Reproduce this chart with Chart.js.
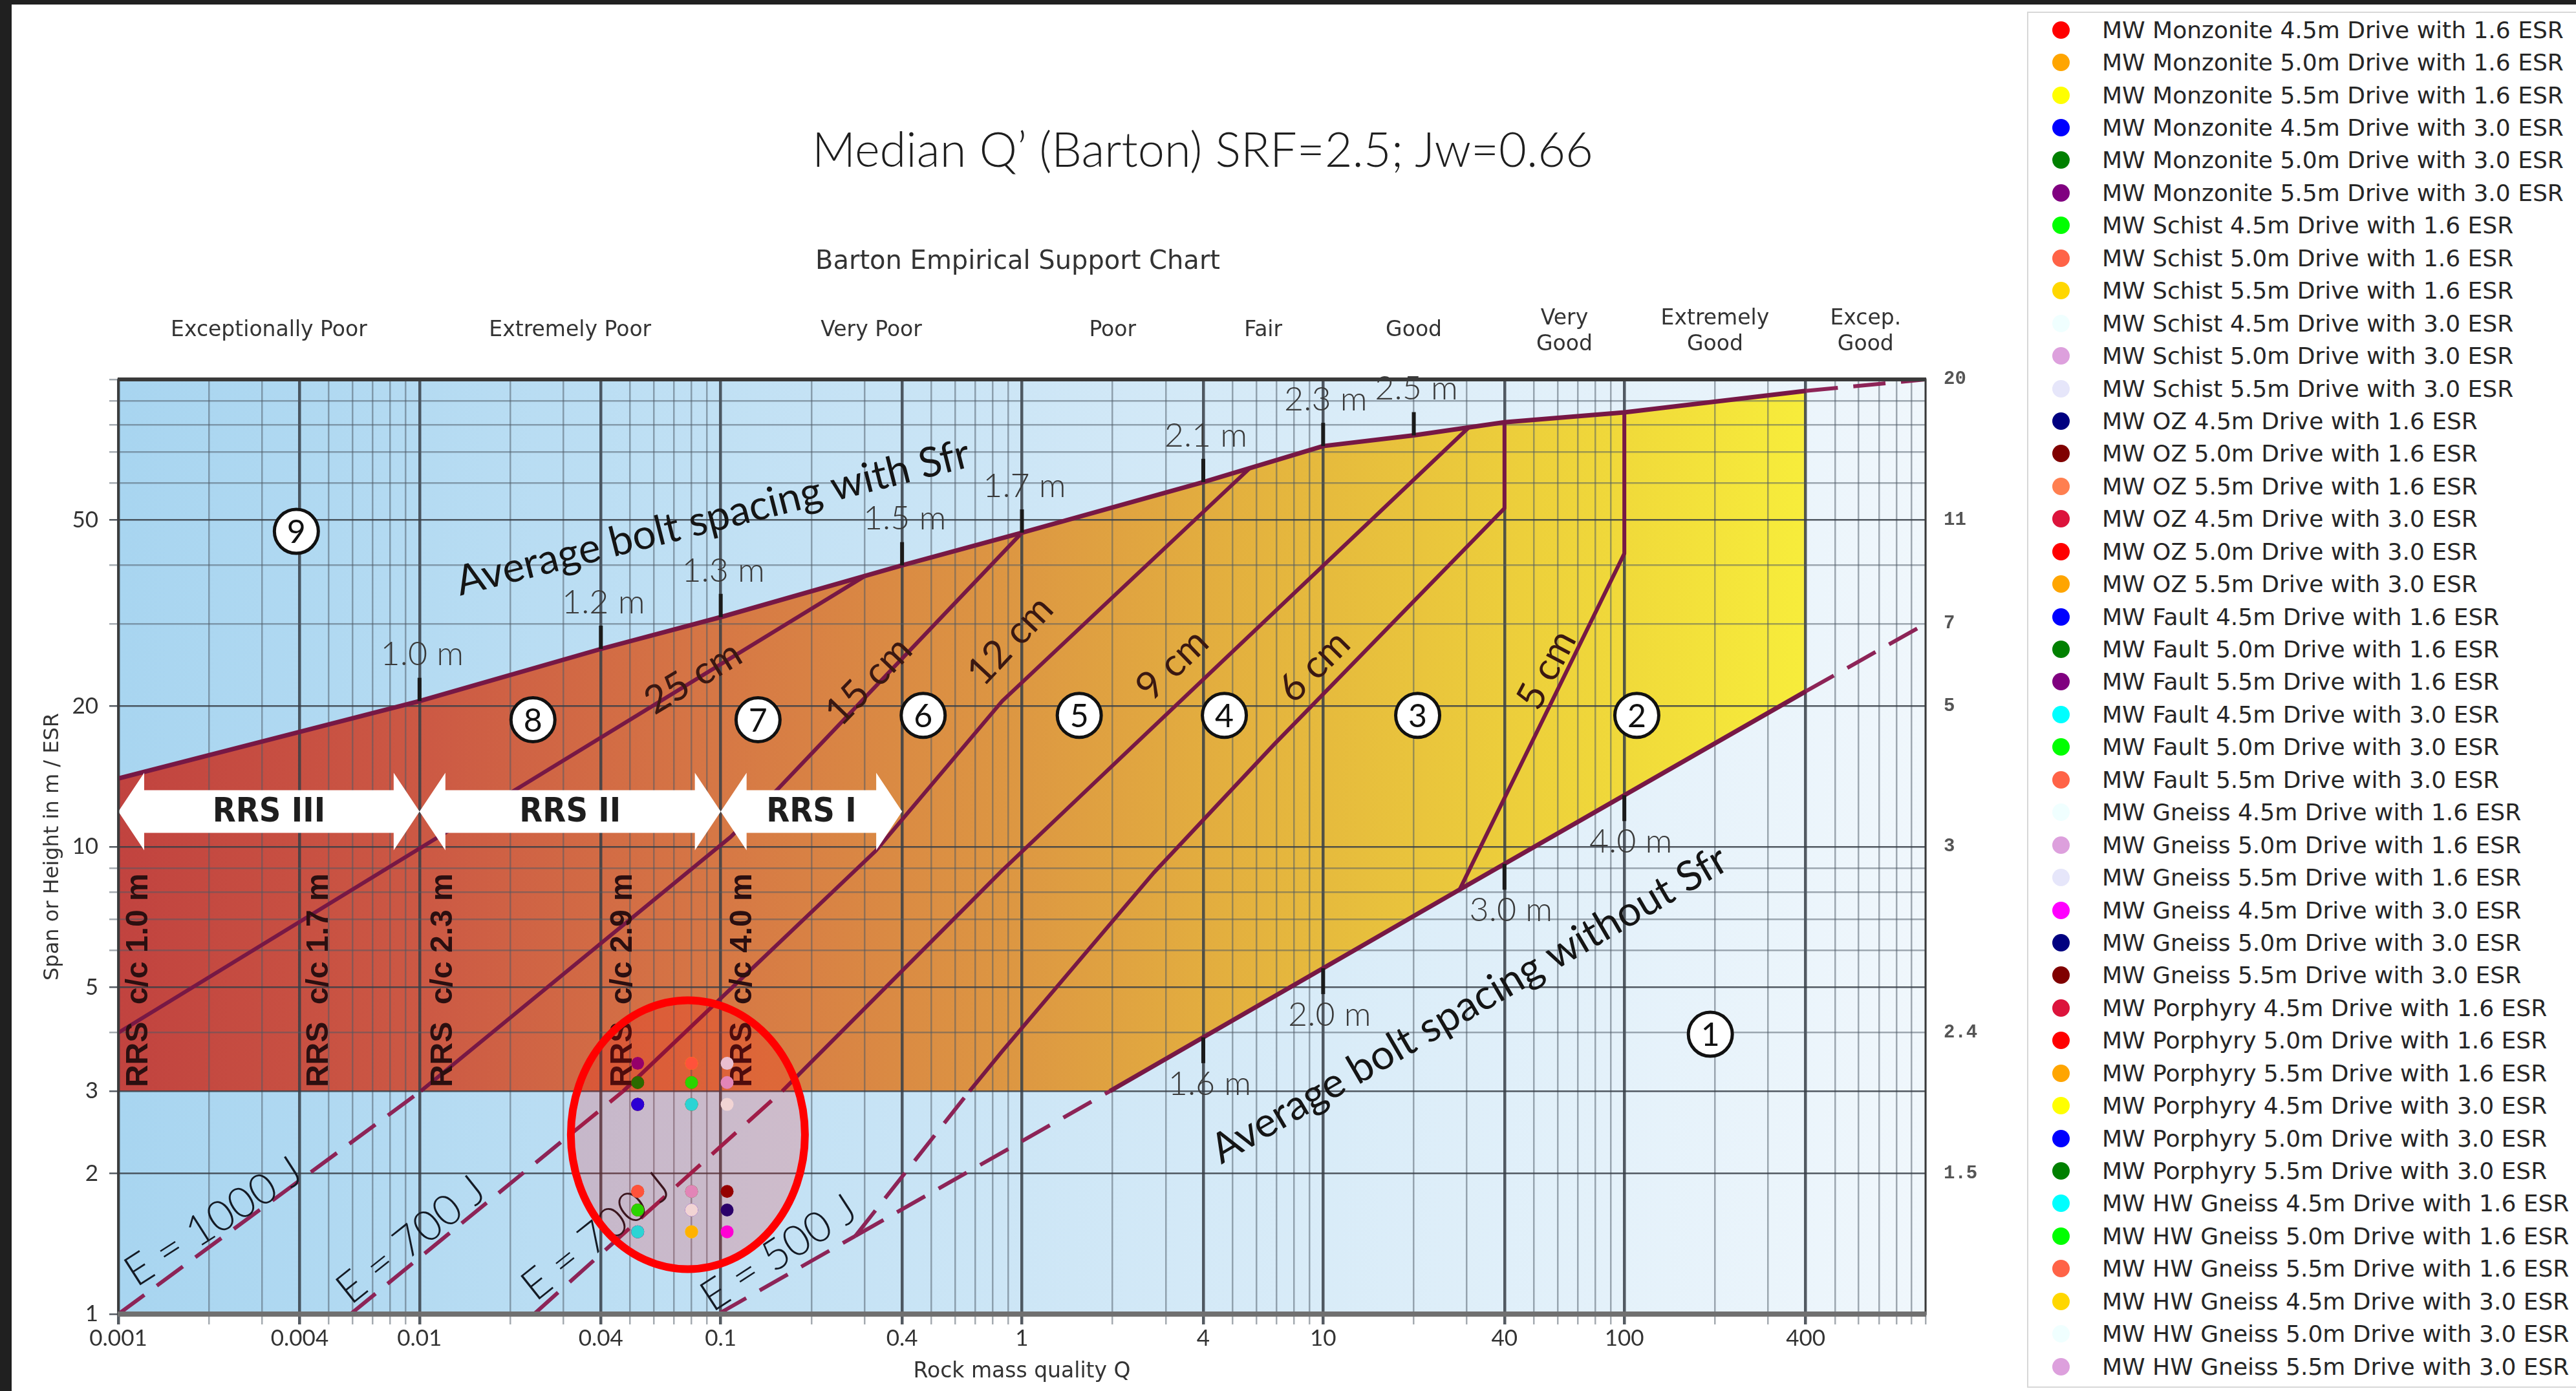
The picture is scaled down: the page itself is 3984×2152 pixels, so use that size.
<!DOCTYPE html>
<html lang="en">
  <head>
    <meta charset="UTF-8" />
    <title>Barton Empirical Support Chart</title>
    <script src="https://cdn.jsdelivr.net/npm/chart.js@4.4.1/dist/chart.umd.min.js"></script>
    <style>
      html, body { margin: 0; padding: 0; background: #fff; }
      body { position: relative; width: 3984px; height: 2152px; overflow: hidden; }
      .edge-top { position: absolute; left: 0; top: 0; width: 3984px; height: 7px; background: #202020; z-index: 5; }
      .edge-left { position: absolute; left: 0; top: 0; width: 18px; height: 2152px; background: #202020; z-index: 5; }
      #page-title { position: absolute; top: 193px; left: 1860px; transform: translateX(-50%); white-space: nowrap;
        font: 300 74px Lato, "Open Sans", sans-serif; line-height: 1; color: #1e1e1e; }
      .chart-view { position: absolute; left: 0; top: 0; width: 3130px; height: 2152px; }
      #legend { position: absolute; left: 3135px; top: 18px; width: 849px; height: 2129px; border: 2px solid #d8d8d8;
        border-right: none; box-sizing: border-box; padding-top: 1px; background: #fff; }
      .legend-item { height: 50.44px; display: flex; align-items: center; font: 36px "DejaVu Sans", sans-serif;
        color: #262626; white-space: nowrap; }
      .legend-dot { width: 27px; height: 27px; border-radius: 50%; margin-left: 37px; margin-right: 50px; flex: none; }
    </style>
  </head>
  <body>
    <div class="edge-top"></div>
    <div class="edge-left"></div>
    <div id="page-title">Median Q’ (Barton) SRF=2.5; Jw=0.66</div>
    <div class="chart-view">
      <canvas id="chart" width="3130" height="2152"></canvas>
    </div>
    <div id="legend"></div>

    <script>
      //data : Q on x, span / ESR on y
      const qTickValues = [0.001, 0.004, 0.01, 0.04, 0.1, 0.4, 1, 4, 10, 40, 100, 400];
      const qTickLabels = ['0.001', '0.004', '0.01', '0.04', '0.1', '0.4', '1', '4', '10', '40', '100', '400'];
      const spanTickValues = [1, 2, 3, 5, 10, 20, 50];
      const spanTickLabels = ['1', '2', '3', '5', '10', '20', '50'];
      const boltTickValues = [2, 4, 10, 20, 30, 50, 100];
      const boltTickLabels = ['1.5', '2.4', '3', '5', '7', '11', '20'];

      const rockClasses = [['Exceptionally Poor'], ['Extremely Poor'], ['Very Poor'], ['Poor'], ['Fair'], ['Good'],
        ['Very', 'Good'], ['Extremely', 'Good'], ['Excep.', 'Good']];
      const rockClassBounds = [0.001, 0.01, 0.1, 1, 4, 10, 40, 100, 400, 1000];

      // support chart boundaries [Q, span/ESR]
      const withSfrLine = [[0.001, 14], [0.01, 20.5], [0.04, 26.5], [0.1, 31], [0.4, 40], [1, 47], [4, 60.3], [10, 72],
        [20, 75.9], [40, 81], [100, 85], [400, 94.5]];
      const withSfrTail = [[400, 94.5], [1000, 100]];
      const withoutSfrLine = [[1.96, 3], [28.4, 8.1], [400, 21.5]];
      const withoutSfrHead = [[0.28, 1.47], [1.96, 3]];
      const withoutSfrTail = [[400, 21.5], [1000, 30]];
      const shot25 = [[0.001, 4], [0.3, 37.9]];
      const shot15 = [[0.0101, 3], [0.108, 10.5], [0.155, 13.3], [1, 47]];
      const shot12 = [[0.0475, 3], [0.327, 9.8], [0.86, 20.5], [5.7, 64.5]];
      const shot9 = [[0.16, 3], [0.86, 8.9], [2.38, 16.6], [30.5, 79]];
      const shot6 = [[0.67, 3], [0.86, 3.65], [2.74, 8.8], [6.9, 16.6], [40, 53], [40, 81]];
      const shot5 = [[28.4, 8.1], [100, 42.4], [100, 85]];
      const energy1000 = [[0.001, 1], [0.0101, 3]];
      const energy700a = [[0.0059, 1], [0.0475, 3]];
      const energy700b = [[0.024, 1], [0.16, 3]];
      const energy500 = [[0.098, 1], [0.28, 1.47]];
      const shot6Tail = [[0.28, 1.47], [0.67, 3]];
      const zonePolygon = [...withSfrLine, ...withoutSfrLine.slice().reverse(), [0.001, 3]];

      // samples
      const rockUnits = ['MW Monzonite', 'MW Schist', 'MW OZ', 'MW Fault', 'MW Gneiss', 'MW Porphyry', 'MW HW Gneiss'];
      const unitQ = [0.053, 0.080, 0.053, 0.053, 0.105, 0.080, 0.080];
      const driveSpans = ['4.5m', '5.0m', '5.5m'];
      const esrValues = ['1.6', '3.0'];
      const spanPerEsr = [[2.81, 3.13, 3.44], [1.50, 1.67, 1.83]];
      const sampleColors = [
        'red', 'orange', 'yellow', 'blue', 'green', 'purple',
        'lime', 'tomato', 'gold', 'azure', 'plum', 'lavender',
        'navy', 'maroon', 'coral', 'crimson', 'red', 'orange',
        'blue', 'green', 'purple', 'cyan', 'lime', 'tomato',
        'azure', 'plum', 'lavender', 'magenta', 'navy', 'maroon',
        'crimson', 'red', 'orange', 'yellow', 'blue', 'green',
        'cyan', 'lime', 'tomato', 'gold', 'azure', 'plum'
      ];

      // chart annotations
      const rrsArrowNames = ['RRS III', 'RRS II', 'RRS I'];
      const rrsArrowBounds = [0.001, 0.01, 0.1, 0.4];
      const rrsArrowSpan = 11.9;
      const rrsSpacingLabels = ['RRS  c/c 1.0 m', 'RRS  c/c 1.7 m', 'RRS  c/c 2.3 m', 'RRS  c/c 2.9 m', 'RRS  c/c 4.0 m'];
      const rrsSpacingQ = [0.00117, 0.00465, 0.012, 0.0475, 0.1186];
      const upperTickQ = [0.01, 0.04, 0.1, 0.4, 1, 4, 10, 20];
      const upperTickText = ['1.0 m', '1.2 m', '1.3 m', '1.5 m', '1.7 m', '2.1 m', '2.3 m', '2.5 m'];
      const lowerTickQ = [4, 10, 40, 100];
      const lowerTickText = ['1.6 m', '2.0 m', '3.0 m', '4.0 m'];
      const zoneText = ['1', '2', '3', '4', '5', '6', '7', '8', '9'];
      const zoneQ = [193, 110, 20.6, 4.7, 1.55, 0.47, 0.133, 0.0238, 0.0039];
      const zoneSpan = [3.97, 19.1, 19.1, 19.1, 19.1, 19.1, 18.7, 18.7, 47.3];
      const lineLabels = [
        { text: 'Average bolt spacing with Sfr', q: 0.0942, s: 50.5, angle: 14.2, size: 64 },
        { text: 'Average bolt spacing without Sfr', q: 30.6, s: 4.59, angle: 30.2, size: 64 },
        { text: '25 cm', q: 0.081, s: 23.0, angle: 31, size: 60 },
        { text: '15 cm', q: 0.31, s: 22.6, angle: 46, size: 60 },
        { text: '12 cm', q: 0.915, s: 27.6, angle: 47, size: 60 },
        { text: '9 cm', q: 3.16, s: 24.5, angle: 44, size: 60 },
        { text: '6 cm', q: 9.35, s: 24.3, angle: 45, size: 60 },
        { text: '5 cm', q: 55.2, s: 23.9, angle: 62, size: 60 },
        { text: 'E = 1000 J', q: 0.00207, s: 1.575, angle: 32.7, size: 66 },
        { text: 'E = 700 J', q: 0.00938, s: 1.44, angle: 38.5, size: 66 },
        { text: 'E = 700 J', q: 0.0386, s: 1.464, angle: 38.5, size: 66 },
        { text: 'E = 500 J', q: 0.156, s: 1.349, angle: 33, size: 66 }
      ];
      const highlightQ = 0.0778;
      const highlightSpan = 2.42;

      //helpers
      const X = (c, q) => c.scales.x.getPixelForValue(q);
      const Y = (c, s) => c.scales.y.getPixelForValue(s);
      const sameLog = (a, b) => Math.abs(Math.log10(a) - Math.log10(b)) < 1e-6;
      const labelFor = (values, labels) => (v) => {
        const i = values.findIndex((t) => sameLog(t, v));
        return i >= 0 ? labels[i] : '';
      };
      function spanOnLine(line, q) {
        for (let i = 0; i < line.length - 1; i++) {
          const [q0, s0] = line[i];
          const [q1, s1] = line[i + 1];
          if (q >= q0 && q <= q1 && q1 > q0) {
            const t = Math.log(q / q0) / Math.log(q1 / q0);
            return Math.exp(Math.log(s0) + t * Math.log(s1 / s0));
          }
        }
        return line[line.length - 1][1];
      }
      function rotatedText(ctx, text, x, y, deg, font, color) {
        ctx.save();
        ctx.translate(x, y);
        ctx.rotate((-deg * Math.PI) / 180);
        ctx.font = font;
        ctx.fillStyle = color;
        ctx.textAlign = 'center';
        ctx.textBaseline = 'middle';
        ctx.fillText(text, 0, 0);
        ctx.restore();
      }

      const qGrid = [];
      for (let e = -3; e <= 2; e++) for (let m = 1; m <= 9; m++) qGrid.push(+(m * Math.pow(10, e)).toPrecision(3));
      qGrid.push(1000);
      const spanGrid = [];
      for (let e = 0; e <= 1; e++) for (let m = 1; m <= 9; m++) spanGrid.push(m * Math.pow(10, e));
      spanGrid.push(100);

      //datasets
      const toPoints = (arr) => arr.map(([q, s]) => ({ x: q, y: s }));
      const sampleSets = [];
      rockUnits.forEach((unit, u) => {
        esrValues.forEach((esr, e) => {
          driveSpans.forEach((span, d) => {
            const i = sampleSets.length;
            sampleSets.push({
              label: unit + ' ' + span + ' Drive with ' + esr + ' ESR',
              isSample: true,
              data: [{ x: unitQ[u], y: spanPerEsr[e][d] }],
              backgroundColor: sampleColors[i],
              borderColor: sampleColors[i],
              borderWidth: 0,
              pointRadius: 10,
              order: 200 - i
            });
          });
        });
      });

      const lineKinds = {
        main: { borderColor: '#771845', borderWidth: 7, borderDash: [] },
        thin: { borderColor: '#771845', borderWidth: 6, borderDash: [] },
        dash: { borderColor: '#8d2457', borderWidth: 6, borderDash: [50, 24] }
      };
      const boundarySets = [
        [withSfrLine, 'main'], [withoutSfrLine, 'main'],
        [withSfrTail, 'dash'], [withoutSfrHead, 'dash'], [withoutSfrTail, 'dash'],
        [shot25, 'thin'], [shot15, 'thin'], [shot12, 'thin'], [shot9, 'thin'], [shot6, 'thin'], [shot5, 'thin'],
        [energy1000, 'dash'], [energy700a, 'dash'], [energy700b, 'dash'], [energy500, 'dash'], [shot6Tail, 'dash']
      ].map(([pts, kind]) => Object.assign({
        data: toPoints(pts),
        showLine: true,
        pointRadius: 0,
        pointHoverRadius: 0,
        fill: false,
        tension: 0,
        borderJoinStyle: 'round',
        order: 500
      }, lineKinds[kind]));

      //plugins
      const bartonChart = {
        id: 'bartonChart',
        beforeDraw(chart) {
          const { ctx, chartArea: a } = chart;
          ctx.save();
          const sky = ctx.createLinearGradient(a.left, 0, a.right, 0);
          sky.addColorStop(0, '#a8d5f0');
          sky.addColorStop(0.5, '#cde6f6');
          sky.addColorStop(1, '#f0f7fc');
          ctx.fillStyle = sky;
          ctx.fillRect(a.left, a.top, a.width, a.height);
          ctx.beginPath();
          ctx.rect(a.left, a.top, a.width, a.height);
          ctx.clip();
          ctx.beginPath();
          zonePolygon.forEach(([q, s], i) => {
            if (i === 0) ctx.moveTo(X(chart, q), Y(chart, s));
            else ctx.lineTo(X(chart, q), Y(chart, s));
          });
          ctx.closePath();
          const warm = ctx.createLinearGradient(a.left, 0, a.right, 0);
          warm.addColorStop(0, '#c1433f');
          warm.addColorStop(0.17, '#cc5944');
          warm.addColorStop(0.33, '#d67745');
          warm.addColorStop(0.5, '#dd9842');
          warm.addColorStop(0.67, '#e6bb3d');
          warm.addColorStop(0.83, '#f0d93a');
          warm.addColorStop(0.93, '#f7ec3b');
          ctx.fillStyle = warm;
          ctx.fill();
          ctx.restore();
        },
        beforeDatasetDraw(chart, args) {
          if (args.index !== 0) return;
          const { ctx } = chart;
          ctx.save();
          // RRS arrows
          const yc = Y(chart, rrsArrowSpan);
          rrsArrowNames.forEach((name, i) => {
            const x0 = X(chart, rrsArrowBounds[i]);
            const x1 = X(chart, rrsArrowBounds[i + 1]);
            const hl = 40, hh = 60, sh = 33;
            ctx.beginPath();
            ctx.moveTo(x0, yc);
            ctx.lineTo(x0 + hl, yc - hh);
            ctx.lineTo(x0 + hl, yc - sh);
            ctx.lineTo(x1 - hl, yc - sh);
            ctx.lineTo(x1 - hl, yc - hh);
            ctx.lineTo(x1, yc);
            ctx.lineTo(x1 - hl, yc + hh);
            ctx.lineTo(x1 - hl, yc + sh);
            ctx.lineTo(x0 + hl, yc + sh);
            ctx.lineTo(x0 + hl, yc + hh);
            ctx.closePath();
            ctx.fillStyle = '#ffffff';
            ctx.fill();
            ctx.font = 'bold 52px "Liberation Sans Narrow", "DejaVu Sans Condensed", sans-serif';
            ctx.fillStyle = '#1e1e1e';
            ctx.textAlign = 'center';
            ctx.textBaseline = 'middle';
            ctx.fillText(name, (x0 + x1) / 2, yc + 2);
          });
          // vertical RRS spacing labels
          ctx.font = 'bold 48px "Liberation Sans", Arial, sans-serif';
          ctx.fillStyle = '#2b0f10';
          rrsSpacingLabels.forEach((t, i) => {
            ctx.save();
            ctx.translate(X(chart, rrsSpacingQ[i]), Y(chart, 3) - 6);
            ctx.rotate(-Math.PI / 2);
            ctx.textAlign = 'left';
            ctx.textBaseline = 'middle';
            ctx.fillText(t, 0, 0);
            ctx.restore();
          });
          // bolt spacing ticks along the two boundaries
          ctx.strokeStyle = '#1a1a1a';
          ctx.lineWidth = 6;
          ctx.font = '300 52px Lato, "Open Sans", sans-serif';
          ctx.fillStyle = '#3a3a3a';
          ctx.textAlign = 'center';
          ctx.textBaseline = 'middle';
          upperTickQ.forEach((q, i) => {
            const x = X(chart, q), y = Y(chart, spanOnLine(withSfrLine, q));
            ctx.beginPath(); ctx.moveTo(x, y); ctx.lineTo(x, y - 36); ctx.stroke();
            ctx.fillText(upperTickText[i], x + 4, y - 72);
          });
          lowerTickQ.forEach((q, i) => {
            const x = X(chart, q), y = Y(chart, spanOnLine(withoutSfrLine, q));
            ctx.beginPath(); ctx.moveTo(x, y); ctx.lineTo(x, y + 40); ctx.stroke();
            ctx.fillText(lowerTickText[i], x + 10, y + 72);
          });
          // rotated line labels
          lineLabels.forEach((l) => {
            const dark = l.text.startsWith('Average') ? '#151515' : (l.text.startsWith('E') ? '#141a24' : '#3a1812');
            const weight = l.text.startsWith('E') ? '300 ' : '';
            rotatedText(ctx, l.text, X(chart, l.q), Y(chart, l.s), l.angle,
              weight + l.size + 'px Lato, "Open Sans", sans-serif', dark);
          });
          // zone numbers
          zoneText.forEach((t, i) => {
            const x = X(chart, zoneQ[i]), y = Y(chart, zoneSpan[i]);
            ctx.beginPath();
            ctx.arc(x, y, 34, 0, Math.PI * 2);
            ctx.fillStyle = '#ffffff';
            ctx.fill();
            ctx.lineWidth = 5;
            ctx.strokeStyle = '#111';
            ctx.stroke();
            ctx.fillStyle = '#111';
            ctx.font = '50px Lato, "Open Sans", sans-serif';
            ctx.fillText(t, x, y + 2);
          });
          ctx.restore();
        },
        afterDatasetsDraw(chart) {
          const { ctx, chartArea: a } = chart;
          ctx.save();
          // highlight ellipse
          ctx.beginPath();
          ctx.ellipse(X(chart, highlightQ), Y(chart, highlightSpan), 181, 208, 0, 0, Math.PI * 2);
          ctx.fillStyle = 'rgba(255, 0, 0, 0.17)';
          ctx.fill();
          ctx.lineWidth = 12;
          ctx.strokeStyle = '#ff0000';
          ctx.stroke();
          // frame
          ctx.lineWidth = 3;
          ctx.strokeStyle = '#3a3a3a';
          ctx.strokeRect(a.left, a.top, a.width, a.height);
          ctx.lineWidth = 6;
          ctx.beginPath(); ctx.moveTo(a.left - 1, a.top); ctx.lineTo(a.right + 1, a.top); ctx.stroke();
          ctx.lineWidth = 8;
          ctx.strokeStyle = '#707070';
          ctx.beginPath(); ctx.moveTo(a.left - 1, a.bottom); ctx.lineTo(a.right + 1, a.bottom); ctx.stroke();
          ctx.restore();
        },
        afterDraw(chart) {
          const { ctx, chartArea: a } = chart;
          ctx.save();
          ctx.font = '33px "DejaVu Sans", sans-serif';
          ctx.fillStyle = '#333';
          ctx.textAlign = 'center';
          ctx.textBaseline = 'middle';
          rockClasses.forEach((lines, i) => {
            const x = X(chart, Math.sqrt(rockClassBounds[i] * rockClassBounds[i + 1]));
            if (lines.length === 1) ctx.fillText(lines[0], x, a.top - 76);
            else {
              ctx.fillText(lines[0], x, a.top - 94);
              ctx.fillText(lines[1], x, a.top - 54);
            }
          });
          ctx.restore();
        }
      };

      const htmlLegend = {
        id: 'htmlLegend',
        afterUpdate(chart) {
          const box = document.getElementById('legend');
          box.innerHTML = '';
          chart.data.datasets.forEach((ds) => {
            if (!ds.isSample) return;
            const row = document.createElement('div');
            row.className = 'legend-item';
            const dot = document.createElement('span');
            dot.className = 'legend-dot';
            dot.style.background = ds.backgroundColor;
            const txt = document.createElement('span');
            txt.textContent = ds.label;
            row.append(dot, txt);
            box.appendChild(row);
          });
        }
      };

      //config
      const gridColor = (values) => (c) =>
        c.tick && values.some((v) => sameLog(v, c.tick.value)) ? 'rgba(55, 62, 70, 0.85)' : 'rgba(75, 88, 100, 0.5)';
      const gridWidth = (values) => (c) => (c.tick && values.some((v) => sameLog(v, c.tick.value)) ? 4.5 : 2.5);

      const config = {
        type: 'scatter',
        data: { datasets: [...sampleSets, ...boundarySets] },
        options: {
          responsive: false,
          devicePixelRatio: 1,
          animation: false,
          events: [],
          layout: { padding: { left: 18, right: 0, top: 0, bottom: 0 } },
          scales: {
            x: {
              type: 'logarithmic',
              min: 0.001,
              max: 1000,
              afterBuildTicks: (s) => { s.ticks = qGrid.map((v) => ({ value: v })); },
              afterFit: (s) => { s.height = 119; },
              ticks: {
                autoSkip: false,
                maxRotation: 0,
                padding: 1,
                color: '#333',
                font: { family: 'Lato, "Open Sans", sans-serif', size: 35 },
                callback: labelFor(qTickValues, qTickLabels)
              },
              grid: { color: gridColor(qTickValues), lineWidth: gridWidth(qTickValues), tickLength: 16 },
              border: { display: false },
              title: {
                display: true,
                text: 'Rock mass quality Q',
                color: '#333',
                font: { family: '"DejaVu Sans", sans-serif', size: 33 },
                padding: { top: 0, bottom: 10 }
              }
            },
            y: {
              type: 'logarithmic',
              position: 'left',
              min: 1,
              max: 100,
              afterBuildTicks: (s) => { s.ticks = spanGrid.map((v) => ({ value: v })); },
              afterFit: (s) => { s.width = 165; },
              ticks: {
                autoSkip: false,
                padding: 17,
                color: '#333',
                font: { family: 'Lato, "Open Sans", sans-serif', size: 35 },
                callback: labelFor(spanTickValues, spanTickLabels)
              },
              grid: { color: gridColor(spanTickValues), lineWidth: 2.5, tickLength: 14 },
              border: { display: false },
              title: {
                display: true,
                text: 'Span or Height in m / ESR',
                color: '#333',
                font: { family: '"DejaVu Sans", sans-serif', size: 32 },
                padding: { top: 44, bottom: 0 }
              }
            },
            y2: {
              type: 'logarithmic',
              position: 'right',
              min: 1,
              max: 100,
              afterBuildTicks: (s) => { s.ticks = boltTickValues.map((v) => ({ value: v })); },
              afterFit: (s) => { s.width = 152; },
              ticks: {
                autoSkip: false,
                padding: 28,
                color: '#555',
                font: { family: '"Liberation Mono", "DejaVu Sans Mono", monospace', size: 29, weight: 'bold' },
                callback: labelFor(boltTickValues, boltTickLabels)
              },
              grid: { display: false, drawTicks: false },
              border: { display: false }
            }
          },
          plugins: {
            legend: { display: false },
            tooltip: { enabled: false },
            title: {
              display: true,
              text: 'Barton Empirical Support Chart',
              color: '#333',
              font: { family: '"DejaVu Sans", sans-serif', size: 40, weight: 'normal' },
              padding: { top: 382, bottom: 157 }
            }
          }
        },
        plugins: [bartonChart, htmlLegend]
      };

      //init
      const ctx = document.getElementById('chart');
      const chart = new Chart(ctx, config);
    </script>
  </body>
</html>
